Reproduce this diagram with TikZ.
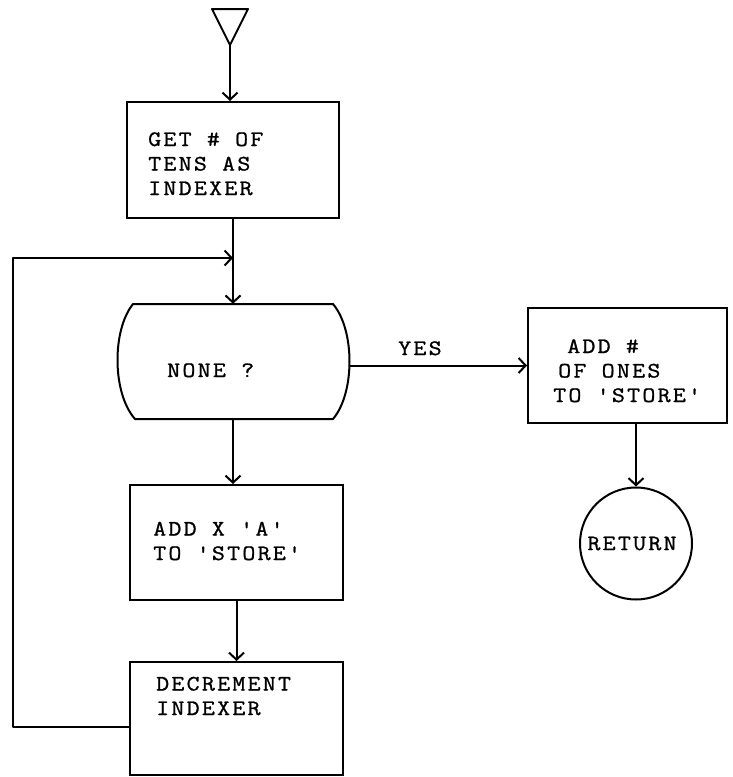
\documentclass[tikz,border=0pt]{standalone}
\usepackage{fontspec}
\newfontfamily\tw{Latin Modern Mono}[LetterSpace=10,FakeStretch=1.15,FakeBold=1]
\usetikzlibrary{arrows.meta}
\tikzset{
  ln/.style={line width=2pt, line join=round},
  arr/.style={ln, -{Straight Barb[length=7pt,width=15pt,line width=2pt]}},
  box/.style={draw, line width=2pt, rectangle, inner sep=0pt},
  txt/.style={font=\tw\fontsize{22}{24.5}\selectfont, anchor=base west, align=left, inner sep=0pt},
}
\begin{document}
\begin{tikzpicture}[x=1pt,y=-1pt]
\useasboundingbox (0,0) rectangle (732,777);
% start triangle
\draw[ln] (212,9) -- (248,9) -- (230,45) -- cycle;
\coordinate (tritip) at (230,45);
% boxes
\node[box, minimum width=212pt, minimum height=116pt] (b1) at (233,160) {};
\node[box, minimum width=213pt, minimum height=115pt] (b2) at (236.5,542.5) {};
\node[box, minimum width=213pt, minimum height=113pt] (b4) at (236.5,718.5) {};
\node[box, minimum width=199pt, minimum height=115pt] (b3) at (627.5,365.5) {};
\node[draw, circle, line width=2pt, minimum size=112pt, inner sep=0pt,
      font=\tw\fontsize{22}{24.5}\selectfont] (ret) at (636,543.5) {\hspace*{-8pt}RETURN};
% decision
\node[minimum width=233pt, minimum height=115pt, inner sep=0pt] (dec) at (233,361.5) {};
\draw[ln] (133,304) -- (333,304)
  .. controls (355,330) and (355,393) .. (333,419)
  -- (135,419)
  .. controls (112,393) and (112,330) .. (133,304) -- cycle;
% texts (anchored at baseline of last line)
\node[txt] (t1) at (148,195) {GET \# OF\\TENS AS\\INDEXER};
\node[txt] (tq) at (167,377) {NONE ?};
\node[txt] (t3) at (553,402) {\hspace*{14pt}ADD \#\\\hspace*{5pt}OF ONES\\TO 'STORE'};
\node[txt] (t2) at (153,560) {ADD X 'A'\\TO 'STORE'};
\node[txt] (t4) at (156,715) {DECREMENT\\INDEXER};
\node[txt] (yes) at (398,355) {YES};
% connectors
\coordinate (lj) at (233,258);
\draw[arr] (tritip) -- (tritip |- b1.north);
\draw[arr] (b1.south) -- (dec.north);
\draw[arr] ([yshift=-8.5pt]b4.west) -- (13,727) -- (13,258) -- (lj);
\draw[arr] (dec.east |- b3.west) -- (b3.west);
\draw[arr] (ret.north |- b3.south) -- (ret.north);
\draw[arr] (dec.south) -- (dec.south |- b2.north);
\draw[arr] (b2.south) -- (b4.north);
\end{tikzpicture}
\end{document}
